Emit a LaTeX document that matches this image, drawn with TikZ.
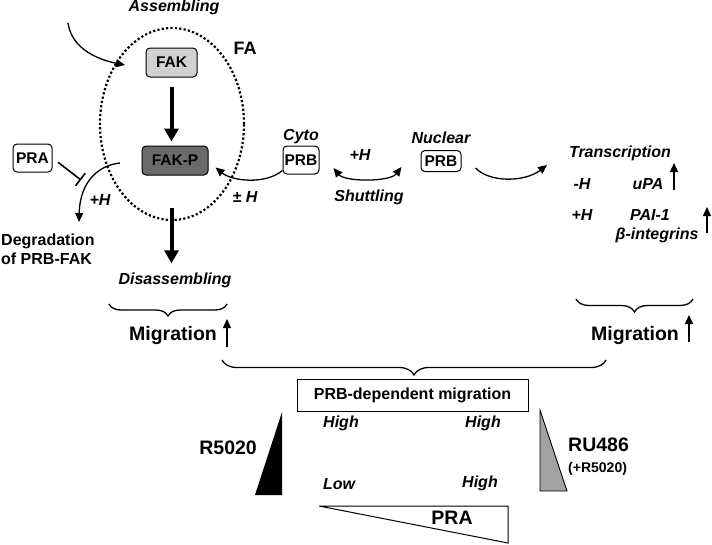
\documentclass[tikz,border=0pt]{standalone}
\usepackage{fontspec}
\setmainfont{Liberation Sans}
\usetikzlibrary{positioning}
\usetikzlibrary{arrows.meta}
\usetikzlibrary{shapes.geometric}
\usetikzlibrary{decorations.pathreplacing}

\definecolor{fakgray}{gray}{0.82}
\definecolor{fakpgray}{gray}{0.42}
\definecolor{rugray}{gray}{0.64}

\tikzset{
  prot/.style={draw, rounded corners=4pt, line width=1pt, inner sep=0pt,
    font=\bfseries\fontsize{15.5}{17}\selectfont},
  lab/.style={inner sep=0pt, font=\bfseries\itshape\fontsize{16}{18}\selectfont},
  big/.style={inner sep=0pt, font=\bfseries\fontsize{19.5}{22}\selectfont},
  arr/.style={line width=1.3pt, -{Triangle[length=9pt,width=8pt]}},
  arrboth/.style={line width=1.3pt, {Triangle[length=9pt,width=8pt]}-{Triangle[length=9pt,width=8pt]}},
  fat/.style={line width=4pt, -{Triangle[length=13pt,width=14pt]}},
  brc/.style={line width=1.3pt, decorate, decoration={brace, mirror, amplitude=#1}},
}

\begin{document}
\begin{tikzpicture}[x=1pt, y=-1pt]
  \useasboundingbox (0,0) rectangle (712,544);

  % Define nodes
  \node[draw, ellipse, dash pattern=on 2.2pt off 2.2pt, line width=2.2pt,
    minimum width=144pt, minimum height=192pt, inner sep=0pt] (fa) at (172,124) {};
  \node[lab] (asm) at (174,7) {Assembling};
  \node[big, font=\bfseries\fontsize{18}{20}\selectfont] (falab) at (245,48) {FA};
  \node[prot, fill=fakgray, minimum width=51pt, minimum height=29pt] (fak) at (171.5,62.5) {FAK};
  \node[prot, fill=fakpgray, minimum width=66pt, minimum height=29pt] (fakp) at (175,160.5) {FAK-P};
  \node[lab] (dis) at (175,280) {Disassembling};
  \node[prot, minimum width=39pt, minimum height=28pt] (pra) at (32.5,158) {PRA};
  \node[lab] (hdeg) at (100,200) {+H};
  \node[anchor=north west, align=left, inner sep=0pt,
    font=\bfseries\fontsize{16}{19}\selectfont] (deg) at (1,234) {Degradation\\of PRB-FAK};

  \node[prot, minimum width=36pt, minimum height=28pt] (prbc) at (301,160) {PRB};
  \node[lab, above=1pt of prbc] (cyto) {Cyto};
  \node[lab] (pmh) at (245,197) {± H};
  \node[lab] (shh) at (360,155) {+H};
  \node[lab] (shut) at (369,197) {Shuttling};
  \node[prot, minimum width=40pt, minimum height=21pt] (prbn) at (441,161) {PRB};
  \node[lab, above=6pt of prbn] (nuc) {Nuclear};

  \node[lab] (trans) at (620,153) {Transcription};
  \node[lab] (mh) at (582,184) {-H};
  \node[lab] (upa) at (648,184) {uPA};
  \node[lab] (ph) at (582,215) {+H};
  \node[lab] (pai) at (650,215) {PAI-1};
  \node[lab] (bint) at (657,235) {β-integrins};

  \node[big] (migl) at (173,335) {Migration};
  \node[big] (migr) at (635,335) {Migration};
  \node[draw, line width=1pt, minimum width=231pt, minimum height=32pt, inner sep=0pt,
    font=\bfseries\fontsize{16}{18}\selectfont] (dep) at (412.5,395) {PRB-dependent migration};
  \node[lab] (hi1) at (341,423) {High};
  \node[lab] (hi2) at (483,423) {High};
  \node[lab] (lo) at (339,484) {Low};
  \node[lab] (hi3) at (480,483) {High};
  \node[big, anchor=east] (r5) at (257,448) {R5020};
  \node[big, anchor=west] (ru) at (568,445) {RU486};
  \node[anchor=west, inner sep=0pt, font=\bfseries\fontsize{14}{16}\selectfont] (rup) at (568,469) {(+R5020)};

  % Free ends
  \coordinate (a0) at (68,23);
  \coordinate (a1) at (125,65);
  \coordinate (inh) at (81,180);
  \coordinate (d0) at (120,163);
  \coordinate (d1) at (79,222);
  \coordinate (t1) at (547,165);
  \coordinate (up1) at (674,190);
  \coordinate (up1e) at (674,163);
  \coordinate (up2) at (707,233);
  \coordinate (up2e) at (707,207);
  \coordinate (up3) at (227,347);
  \coordinate (up3e) at (227,319);
  \coordinate (up4) at (689,342);
  \coordinate (up4e) at (689,315);

  % Connect the nodes
  \draw[arr] (a0) .. controls (72,50) and (100,60) .. (a1);
  \draw[fat, shorten <=9pt, shorten >=4pt] (fak.south) -- (fak.south |- fakp.north);
  \draw[fat, shorten <=32pt, shorten >=9pt] (fak.south |- fakp.south) -- (fak.south |- dis.north);
  \draw[line width=1.6pt, -{Bar[width=16pt]}, shorten <=7pt] (pra.east) -- (inh);
  \draw[arr] (d0) .. controls (100,165) and (80,180) .. (d1);
  \draw[arr] ([yshift=4pt]prbc.south west) .. controls (265,185) and (232,181) .. ([xshift=7pt,yshift=-7pt]fakp.east);
  \draw[arrboth] ([xshift=14pt,yshift=-8pt]prbc.east) .. controls (345,182) and (390,182) .. ([xshift=-19pt,yshift=-6pt]prbn.west);
  \draw[arr] ([xshift=14pt,yshift=-7pt]prbn.east) .. controls (490,183) and (525,182) .. (t1);
  \draw[arr] (up1) -- (up1e);
  \draw[arr] (up2) -- (up2e);
  \draw[arr] (up3) -- (up3e);
  \draw[arr] (up4) -- (up4e);

  % Braces
  \draw[brc=12pt] (109,304) -- (227,304);
  \draw[brc=13pt] (576,299) -- (693,299);
  \draw[brc=15pt] (222,360) -- (606,360);

  % Gradients
  \fill (255,495) -- (282,495) -- (282,412) -- cycle;
  \filldraw[fill=rugray, line width=0.8pt] (540,410) -- (540,491) -- (567,491) -- cycle;
  \draw[line width=1pt, fill=white] (319,506) -- (508,506) -- (508,543) -- cycle;
  \node[big] (pralab) at (452,518) {PRA};

\end{tikzpicture}
\end{document}
